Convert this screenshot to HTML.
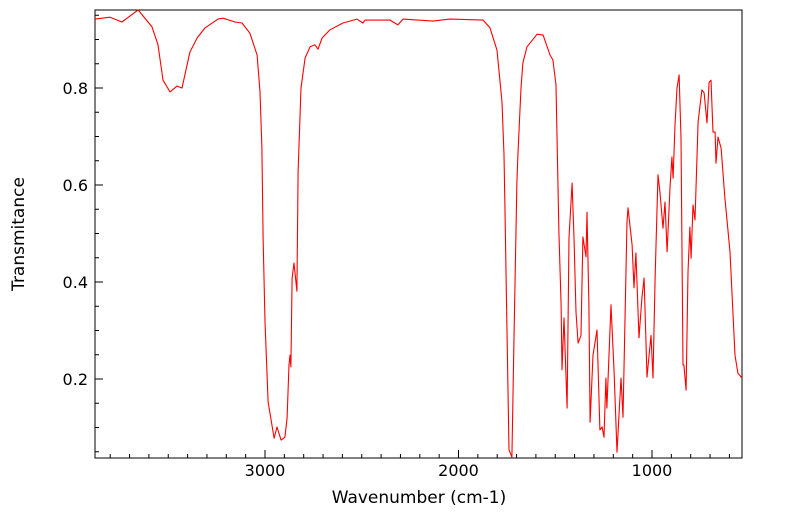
<!DOCTYPE html>
<html><head><meta charset="utf-8"><style>
body{margin:0;background:#fff}
svg text{font-family:"DejaVu Sans","Liberation Sans",sans-serif;fill:#000}
</style></head><body>
<svg id="chart" width="799" height="516" xmlns="http://www.w3.org/2000/svg"></svg>
<script>
const wavenumbers=[3879,3801,3739,3656,3584,3553,3527,3491,3455,3429,3388,3351,3310,3243,3217,3155,3119,3078,3041,3026,3016,3010,3000,2984,2953,2938,2917,2897,2886,2876,2871,2866,2860,2850,2835,2829,2814,2793,2767,2742,2726,2705,2664,2597,2525,2494,2483,2354,2313,2287,2132,2044,1873,1837,1801,1775,1765,1760,1749,1739,1724,1713,1698,1693,1677,1667,1646,1594,1563,1527,1512,1496,1481,1470,1465,1455,1439,1429,1413,1403,1393,1382,1367,1357,1341,1336,1326,1320,1305,1284,1269,1258,1248,1238,1233,1212,1196,1181,1160,1150,1129,1124,1103,1093,1083,1067,1052,1041,1026,1005,995,984,969,959,943,933,922,907,897,891,881,871,860,850,840,835,824,814,804,798,788,778,762,742,731,716,705,695,685,674,669,659,643,623,597,571,556,535];
const transmittance=[0.942,0.946,0.936,0.961,0.926,0.889,0.816,0.792,0.804,0.800,0.874,0.903,0.924,0.942,0.944,0.936,0.934,0.913,0.868,0.792,0.676,0.491,0.318,0.153,0.078,0.101,0.074,0.080,0.120,0.229,0.249,0.225,0.408,0.439,0.381,0.627,0.800,0.862,0.885,0.889,0.880,0.903,0.920,0.934,0.942,0.934,0.940,0.940,0.930,0.942,0.938,0.942,0.940,0.924,0.878,0.771,0.662,0.559,0.285,0.054,0.039,0.285,0.606,0.662,0.800,0.852,0.885,0.911,0.909,0.868,0.858,0.806,0.503,0.353,0.219,0.326,0.140,0.491,0.604,0.491,0.338,0.274,0.290,0.493,0.452,0.544,0.353,0.111,0.249,0.301,0.095,0.101,0.080,0.202,0.140,0.353,0.214,0.049,0.202,0.121,0.524,0.553,0.476,0.388,0.460,0.285,0.367,0.408,0.204,0.290,0.202,0.408,0.621,0.586,0.511,0.565,0.462,0.594,0.658,0.614,0.724,0.800,0.827,0.697,0.229,0.229,0.177,0.421,0.513,0.449,0.559,0.528,0.730,0.796,0.790,0.728,0.812,0.816,0.709,0.709,0.645,0.699,0.676,0.573,0.462,0.249,0.212,0.202];
const xTickLabels=[3000,2000,1000];
const yTickLabels=[0.2,0.4,0.6,0.8];

const NS="http://www.w3.org/2000/svg";
const svg=document.getElementById('chart');
const L=95,R=742,T=10,B=458;
const X=w=>265+(3000-w)*0.1935;
const Y=t=>476-t*485;
function mk(tag,attrs,parent){const e=document.createElementNS(NS,tag);for(const k in attrs)e.setAttribute(k,attrs[k]);(parent||svg).appendChild(e);return e;}

const frame=mk('rect',{x:L,y:T,width:R-L,height:B-T,fill:'none',stroke:'#000','stroke-width':1});



const xg=mk('g',{});


for(let w=600;w<=3800;w+=100){const x=X(w);if(x<L||x>R)continue;const maj=w%1000===0;
 const t=mk('line',{x1:x,x2:x,y1:B,y2:B-(maj?8:4),stroke:'#000'},xg);
 
 }
xTickLabels.forEach(v=>{const t=mk('text',{x:X(v),y:476,'text-anchor':'middle','font-size':16},xg);t.textContent=v;
 
 });
const xt=mk('text',{x:419,y:503,'text-anchor':'middle','font-size':17},xg);xt.textContent='Wavenumber (cm-1)';



const yg=mk('g',{});


for(let i=1;i<=19;i++){const v=i*0.05;const y=Y(v);if(y<T||y>B)continue;const maj=Math.abs(v*10-Math.round(v*10))<1e-6&&Math.round(v*10)%2===0;
 const t=mk('line',{x1:L,x2:L+(maj?8:4),y1:y,y2:y,stroke:'#000'},yg);
 
 }
yTickLabels.forEach(v=>{const t=mk('text',{x:88,y:Y(v)+6,'text-anchor':'end','font-size':16},yg);t.textContent=v.toFixed(1);
 
 });
const yt=mk('text',{x:24,y:234,'text-anchor':'middle','font-size':17,transform:'rotate(-90 24 234)'},yg);yt.textContent='Transmitance';



const d=wavenumbers.map((w,i)=>(i?'L':'M')+X(w).toFixed(1)+','+Y(transmittance[i]).toFixed(1)).join('');
const line=mk('path',{d:d,fill:'none',stroke:'#ff0000','stroke-width':1.1,'stroke-linejoin':'round'});


</script>
</body></html>
